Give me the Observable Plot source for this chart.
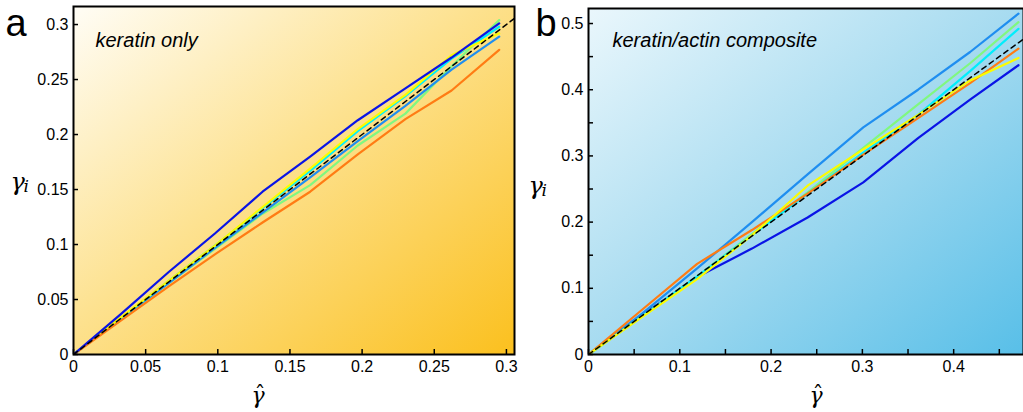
<!DOCTYPE html>
<html><head><meta charset="utf-8">
<script src="https://cdn.jsdelivr.net/npm/d3@7"></script>
<script src="https://cdn.jsdelivr.net/npm/@observablehq/plot@0.6"></script>
<style>
html,body{margin:0;padding:0;background:#fff;overflow:hidden;}
#wrap{position:relative;width:1023px;height:412px;overflow:hidden;background:#fff;}
#wrap svg{position:absolute;top:0;}
</style></head><body><div id="wrap"></div>
<script>
// ---------- Panel a: keratin only ----------
const gammaHatA = [0, 0.033, 0.066, 0.098, 0.131, 0.164, 0.197, 0.23, 0.262, 0.295];
const blueA   = [0, 0.037, 0.075, 0.110, 0.148, 0.180, 0.213, 0.242, 0.270, 0.301];
const dodgerA = [0, 0.033, 0.065, 0.097, 0.129, 0.161, 0.194, 0.226, 0.259, 0.289];
const cyanA   = [0, 0.033, 0.067, 0.099, 0.133, 0.167, 0.203, 0.235, 0.269, 0.298];
const greenA  = [0, 0.033, 0.065, 0.096, 0.128, 0.154, 0.190, 0.219, 0.262, 0.304];
const yellowA = [0, 0.034, 0.067, 0.099, 0.134, 0.169, 0.205, 0.236, 0.272, 0.292];
const orangeA = [0, 0.031, 0.062, 0.091, 0.120, 0.148, 0.182, 0.214, 0.240, 0.277];
const identityA = [0, 0.32];
const xTicksA = [0, 0.05, 0.1, 0.15, 0.2, 0.25, 0.3];
const yTicksA = [0, 0.05, 0.1, 0.15, 0.2, 0.25, 0.3];
const titleA = "keratin only";

// ---------- Panel b: keratin/actin composite ----------
const gammaHatB = [0, 0.059, 0.119, 0.179, 0.24, 0.301, 0.361, 0.418, 0.471];
const blueB   = [0, 0.060, 0.117, 0.160, 0.207, 0.260, 0.327, 0.385, 0.437];
const dodgerB = [0, 0.062, 0.130, 0.200, 0.272, 0.343, 0.400, 0.457, 0.515];
const greenB  = [0, 0.058, 0.118, 0.182, 0.245, 0.312, 0.378, 0.440, 0.502];
const cyanB   = [0, 0.058, 0.118, 0.180, 0.243, 0.305, 0.362, 0.428, 0.492];
const orangeB = [0, 0.068, 0.137, 0.188, 0.243, 0.302, 0.357, 0.410, 0.462];
const yellowB = [0, 0.057, 0.114, 0.180, 0.255, 0.310, 0.362, 0.414, 0.448];
const identityB = [0, 0.49];
const xTicksB = [0, 0.05, 0.1, 0.15, 0.2, 0.25, 0.3, 0.35, 0.4, 0.45];
const xLabelsB = [0, 0.1, 0.2, 0.3, 0.4];
const yTicksB = [0, 0.05, 0.1, 0.15, 0.2, 0.25, 0.3, 0.35, 0.4, 0.45, 0.5];
const yLabelsB = [0, 0.1, 0.2, 0.3, 0.4, 0.5];
const titleB = "keratin/actin composite";

const colors = {
  blue: "#0a14e6", dodger: "#1f8ef0", cyan: "#00eefc",
  green: "#80f880", yellow: "#fcfc00", orange: "#ff7c14"
};

const SANS = "Liberation Sans, Arial, Helvetica, sans-serif";
const SERIF = "DejaVu Serif, Liberation Serif, serif";

function toRows(xs, ys) { return xs.map((x, i) => ({x, y: ys[i]})); }

function panel(cfg) {
  const innerW = cfg.width - cfg.mL - cfg.mR;
  const innerH = 412 - cfg.mT - cfg.mB;
  const lines = cfg.series.map(s =>
    Plot.line(toRows(cfg.xs, s.ys), {x: "x", y: "y", stroke: s.color, strokeWidth: 2.2, clip: true}));
  const svg = Plot.plot({
    width: cfg.width, height: 412,
    marginLeft: cfg.mL, marginRight: cfg.mR, marginTop: cfg.mT, marginBottom: cfg.mB,
    style: {fontFamily: SANS, fontSize: "16px", background: "transparent", overflow: "visible"},
    x: {domain: cfg.xDomain, axis: null},
    y: {domain: cfg.yDomain, axis: null},
    marks: [
      Plot.frame({fill: "white", stroke: "none"}),
      ...lines,
      Plot.line(cfg.identity, {x: d => d, y: d => d, stroke: "black", strokeWidth: 1.5, strokeDasharray: "5,4", clip: true}),
      Plot.tickX(cfg.xTicks, {x: d => d, stroke: "black", strokeWidth: 1.5, insetTop: innerH - 5}),
      Plot.tickY(cfg.yTicks, {y: d => d, stroke: "black", strokeWidth: 1.5, insetRight: innerW - 5}),
      Plot.axisX(cfg.xLabels, {tickSize: 0, tickPadding: 6, fontSize: 16, label: null, tickFormat: d => String(d)}),
      Plot.axisY(cfg.yLabels, {tickSize: 0, tickPadding: 5, fontSize: 16, label: null, tickFormat: d => String(d)}),
      Plot.frame({stroke: "black", strokeWidth: 2, fill: "none"}),
      Plot.text([cfg.title], {frameAnchor: "top-left", dx: cfg.titleDx, dy: cfg.titleDy, text: d => d,
        textAnchor: "start", lineAnchor: "bottom", fontSize: 20, fontStyle: "italic", fontFamily: SANS, fill: "black"}),
      Plot.text([cfg.letter], {frameAnchor: "top-left", dx: cfg.letterDx, dy: cfg.letterDy, text: d => d,
        textAnchor: "start", lineAnchor: "bottom", fontSize: 38, fontFamily: SANS, fill: "black"}),
      Plot.text(["γ"], {frameAnchor: "left", dx: cfg.gDx, dy: cfg.gDy, text: d => d,
        textAnchor: "start", lineAnchor: "bottom", fontSize: 24, fontStyle: "italic", fontFamily: SERIF, fill: "black"}),
      Plot.text(["i"], {frameAnchor: "left", dx: cfg.gDx + 13, dy: cfg.gDy + 2, text: d => d,
        textAnchor: "start", lineAnchor: "bottom", fontSize: 17, fontStyle: "italic", fontFamily: SERIF, fill: "black"}),
      Plot.text(["γ"], {frameAnchor: "bottom", dx: cfg.hDx, dy: 48, text: d => d,
        textAnchor: "middle", lineAnchor: "bottom", fontSize: 22, fontStyle: "italic", fontFamily: SERIF, fill: "black"}),
      Plot.text(["ˆ"], {frameAnchor: "bottom", dx: cfg.hDx + 2, dy: 47, text: d => d,
        textAnchor: "middle", lineAnchor: "bottom", fontSize: 22, fontFamily: SERIF, fill: "black"})
    ]
  });
  // gradient background of the frame
  const ns = "http://www.w3.org/2000/svg";
  const defs = document.createElementNS(ns, "defs");
  defs.innerHTML = `<linearGradient id="${cfg.gradId}" x1="0" y1="0" x2="1" y2="1">` +
    cfg.stops.map(([o, c]) => `<stop offset="${o}" stop-color="${c}"/>`).join("") + `</linearGradient>`;
  svg.insertBefore(defs, svg.firstChild);
  const fr = svg.querySelector('[aria-label="frame"]');
  if (fr) {
    fr.setAttribute("fill", `url(#${cfg.gradId})`);
    fr.querySelectorAll("rect").forEach(r => r.setAttribute("fill", `url(#${cfg.gradId})`));
  }
  svg.style.left = cfg.left + "px";
  return svg;
}

const wrap = document.getElementById("wrap");

wrap.appendChild(panel({
  left: 0, width: 520, mL: 73, mR: 6, mT: 6, mB: 58,
  xDomain: [0, 0.3056], yDomain: [0, 0.3164],
  xs: gammaHatA,
  series: [
    {ys: greenA, color: colors.green},
    {ys: dodgerA, color: colors.dodger},
    {ys: cyanA, color: colors.cyan},
    {ys: yellowA, color: colors.yellow},
    {ys: orangeA, color: colors.orange},
    {ys: blueA, color: colors.blue}
  ],
  identity: identityA,
  xTicks: xTicksA, yTicks: yTicksA, xLabels: xTicksA, yLabels: yTicksA,
  title: titleA, titleDx: 22, titleDy: 40,
  letter: "a", letterDx: -68, letterDy: 29,
  gDx: -63, gDy: 9, hDx: -36,
  gradId: "gA",
  stops: [[0, "#fffdf6"], [0.45, "#fde291"], [1, "#fbc01e"]]
}));

wrap.appendChild(panel({
  left: 520, width: 510, mL: 68, mR: 7, mT: 8, mB: 58,
  xDomain: [0, 0.4765], yDomain: [0, 0.5227],
  xs: gammaHatB,
  series: [
    {ys: blueB, color: colors.blue},
    {ys: dodgerB, color: colors.dodger},
    {ys: greenB, color: colors.green},
    {ys: cyanB, color: colors.cyan},
    {ys: orangeB, color: colors.orange},
    {ys: yellowB, color: colors.yellow}
  ],
  identity: identityB,
  xTicks: xTicksB, yTicks: yTicksB, xLabels: xLabelsB, yLabels: yLabelsB,
  title: titleB, titleDx: 24, titleDy: 38,
  letter: "b", letterDx: -53, letterDy: 27,
  gDx: -60, gDy: 12, hDx: 10,
  gradId: "gB",
  stops: [[0, "#eaf7fc"], [0.5, "#a6dbf0"], [1, "#58bfe8"]]
}));
</script></body></html>
